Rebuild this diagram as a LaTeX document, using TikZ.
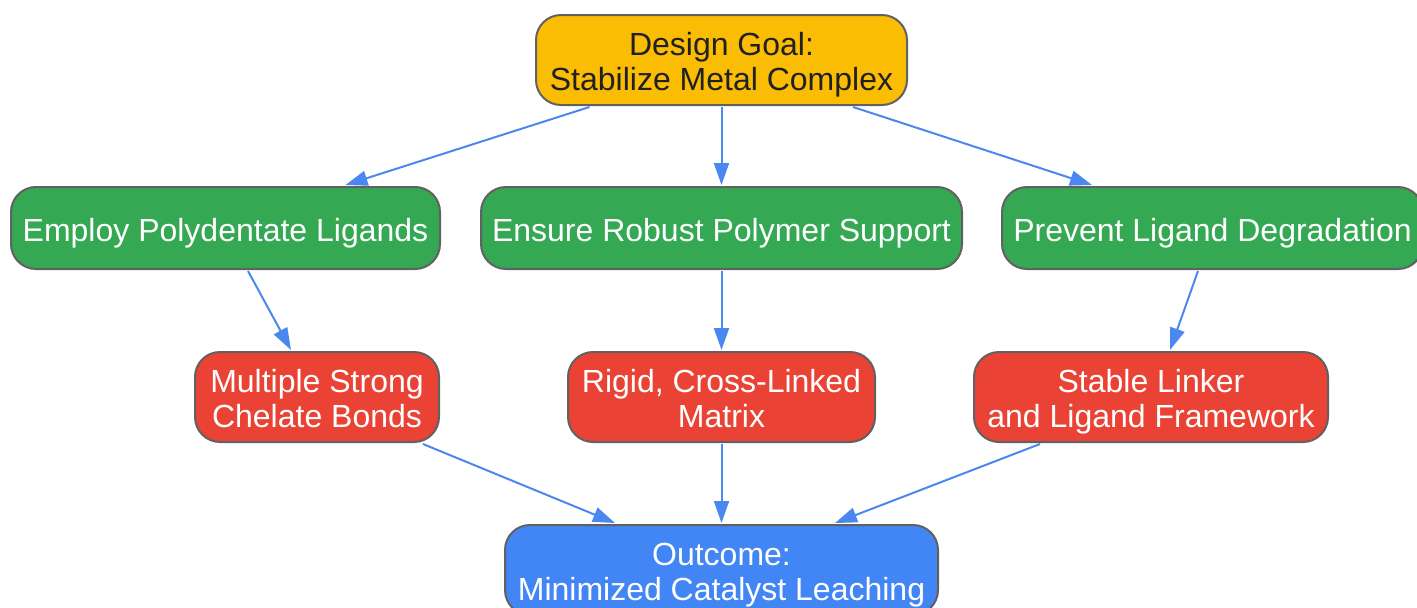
\documentclass[tikz,border=0pt]{standalone}
\usepackage{fontspec}
\setmainfont{Liberation Sans}
\usetikzlibrary{arrows.meta,calc}
\definecolor{cyellow}{HTML}{FBBC04}
\definecolor{cgreen}{HTML}{34A853}
\definecolor{cred}{HTML}{EA4335}
\definecolor{cblue}{HTML}{4285F4}
\definecolor{carrow}{HTML}{4A88F0}
\definecolor{cborder}{HTML}{616161}
\definecolor{cdark}{HTML}{202124}
\newcommand{\lowertext}[1]{\raisebox{-6pt}[\height][\depth]{\begin{tabular}{@{}c@{}}#1\end{tabular}}}
\tikzset{
  box/.style={draw=cborder, line width=2pt, rounded corners=25pt, align=center,
    font=\fontsize{32}{35}\selectfont, inner sep=0pt},
  conn/.style={draw=carrow, line width=2pt, -{Triangle[length=22pt,width=15pt]}},
}
\begin{document}
\begin{tikzpicture}[x=1pt,y=-1pt]
\useasboundingbox (0,0) rectangle (1417,608);
\clip (0,0) rectangle (1417,608);
\node[box, fill=cyellow, text=cdark, minimum width=371pt, minimum height=90pt] (goal) at (721.5,60) {\lowertext{Design Goal:\\Stabilize Metal Complex}};
\node[box, fill=cgreen, text=white, minimum width=429pt, minimum height=82pt] (g1) at (225.5,228) {\lowertext{Employ Polydentate Ligands}};
\node[box, fill=cgreen, text=white, minimum width=481pt, minimum height=82pt] (g2) at (721.5,228) {\lowertext{Ensure Robust Polymer Support}};
\node[box, fill=cgreen, text=white, minimum width=421pt, minimum height=82pt] (g3) at (1212.5,228) {\lowertext{Prevent Ligand Degradation}};
\node[box, fill=cred, text=white, minimum width=244pt, minimum height=90pt] (r1) at (317,397) {\lowertext{Multiple Strong\\Chelate Bonds}};
\node[box, fill=cred, text=white, minimum width=307pt, minimum height=90pt] (r2) at (721.5,397) {\lowertext{Rigid, Cross-Linked\\Matrix}};
\node[box, fill=cred, text=white, minimum width=354pt, minimum height=90pt] (r3) at (1151,397) {\lowertext{Stable Linker\\and Ligand Framework}};
\node[box, fill=cblue, text=white, minimum width=433pt, minimum height=90pt] (out) at (721.5,570) {\lowertext{Outcome:\\Minimized Catalyst Leaching}};
\draw[conn] ([xshift=-132pt,yshift=-1pt]goal.south) -- ([xshift=120pt,yshift=1pt]g1.north);
\draw[conn] ([yshift=-1pt]goal.south) -- ([yshift=1pt]g2.north);
\draw[conn] ([xshift=131.5pt,yshift=-1pt]goal.south) -- ([xshift=-120.5pt,yshift=1pt]g3.north);
\draw[conn] ([xshift=22.5pt,yshift=-1pt]g1.south) -- ([xshift=-26pt,yshift=1pt]r1.north);
\draw[conn] ([yshift=-1pt]g2.south) -- ([yshift=1pt]r2.north);
\draw[conn] ([xshift=-14.5pt,yshift=-1pt]g3.south) -- ([xshift=19pt,yshift=1pt]r3.north);
\draw[conn] ([xshift=106pt,yshift=-1pt]r1.south) -- ([xshift=-106.5pt,yshift=1pt]out.north);
\draw[conn] ([yshift=-1pt]r2.south) -- ([yshift=1pt]out.north);
\draw[conn] ([xshift=-111pt,yshift=-1pt]r3.south) -- ([xshift=113.5pt,yshift=1pt]out.north);
\end{tikzpicture}
\end{document}
